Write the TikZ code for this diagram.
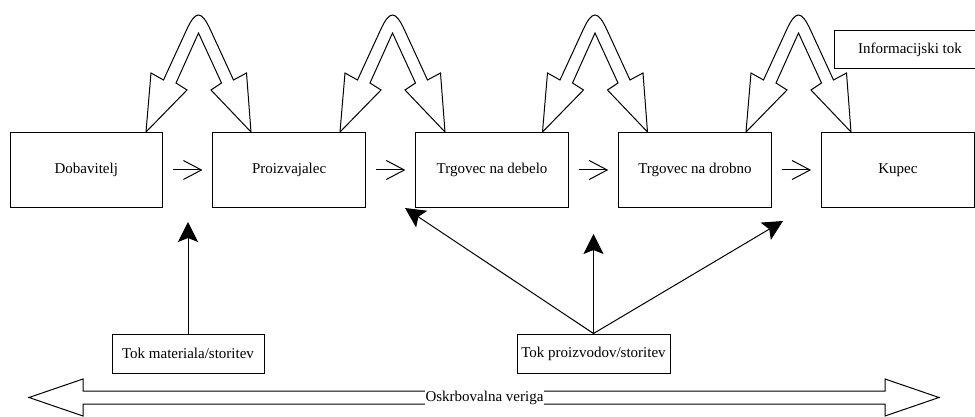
\documentclass[tikz,border=0pt]{standalone}
\usepackage{fontspec}
\setmainfont{Liberation Serif}
\newfontfamily\dgfont{Liberation Serif}
\usetikzlibrary{arrows.meta}
\pgfdeclarearrow{
  name = VeeOpen,
  parameters = {\the\pgfarrowlength,\the\pgfarrowwidth},
  setup code = {
    \pgfarrowssettipend{0pt}
    \pgfarrowssetlineend{-0.5pt}
    \pgfarrowssavethe\pgfarrowlength
    \pgfarrowssavethe\pgfarrowwidth
  },
  drawing code = {
    \pgfsetdash{}{0pt}
    \pgfpathmoveto{\pgfqpoint{-\pgfarrowlength}{.5\pgfarrowwidth}}
    \pgfpathlineto{\pgfpointorigin}
    \pgfpathlineto{\pgfqpoint{-\pgfarrowlength}{-.5\pgfarrowwidth}}
    \pgfusepathqstroke
  },
  defaults = {length = 18pt, width = 19pt}
}
\newcommand\infoarrow[2]{%
  \begin{scope}[shift={(#1,0)},xscale=#2]
    \draw[fat] (-52.5,132) -- (-47.5,73) -- (-35,80) -- (-12,30) .. controls (-2.8,10) and (2.8,10) .. (12,30)
      -- (35,80) -- (48,73) -- (52.5,132) -- (12.5,90) -- (23,83) -- (0,33)
      -- (-22.5,83) -- (-11.5,90) -- cycle;
  \end{scope}}
\begin{document}
\begin{tikzpicture}[x=1pt,y=-1pt,
  txt/.style={font=\dgfont\fontsize{15}{18}\selectfont},
  box/.style={draw,line width=1pt,fill=white,inner sep=0pt,txt},
  flow/.style={line width=1pt,-{VeeOpen[length=18pt,width=19pt]},shorten <=10pt,shorten >=11pt},
  tok/.style={line width=1pt,-{Stealth[length=20pt,width=20pt,inset=4pt]}},
  fat/.style={draw,line width=1pt,fill=white,line join=miter}]
\useasboundingbox (0,0) rectangle (975,417);

% information flows
\infoarrow{198.5}{1}
\infoarrow{392.5}{1}
\infoarrow{595}{1}
\infoarrow{798.5}{1}

% main boxes
\node[box,minimum width=152.5pt,minimum height=75.5pt] (dob) at (86.25,170) {Dobavitelj};
\node[box,minimum width=152.5pt,minimum height=75.5pt] (pro) at (289.15,170) {Proizvajalec};
\node[box,minimum width=152.5pt,minimum height=75.5pt] (deb) at (492.05,170) {Trgovec na debelo};
\node[box,minimum width=152.5pt,minimum height=75.5pt] (dro) at (694.95,170) {Trgovec na drobno};
\node[box,minimum width=152.5pt,minimum height=75.5pt] (kup) at (897.85,170) {Kupec};

\node[box,minimum width=152pt,minimum height=38pt] (inf) at (910,49.5) {Informacijski tok};
\node[box,minimum width=152pt,minimum height=39pt] (tm) at (188,353.5) {Tok materiala/storitev};
\node[box,minimum width=153pt,minimum height=39pt] (tp) at (593.5,353.5) {Tok proizvodov/storitev};

% flows between boxes
\draw[flow] (dob) -- (pro);
\draw[flow] (pro) -- (deb);
\draw[flow] (deb) -- (dro);
\draw[flow] (dro) -- (kup);

% material / product flow arrows
\coordinate (c1) at (188,222);
\coordinate (c2) at (405,208);
\coordinate (c3) at (593.5,234);
\coordinate (c4) at (783,221);
\draw[tok] (tm.north) -- (c1);
\draw[tok] (tp.north) -- (c2);
\draw[tok] (tp.north) -- (c3);
\draw[tok] (tp.north) -- (c4);

% supply chain double arrow
\draw[fat] (29,397.5) -- (83,379) -- (83,391) -- (885,391) -- (885,379) -- (939,397.5)
  -- (885,416) -- (885,404) -- (83,404) -- (83,416) -- cycle;
\node[fill=white,inner sep=1pt,txt] (ov) at (484.5,397.5) {Oskrbovalna veriga};
\end{tikzpicture}
\end{document}
